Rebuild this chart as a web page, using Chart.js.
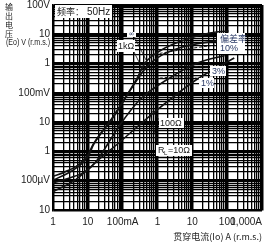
<!DOCTYPE html>
<html><head><meta charset="utf-8">
<script src="https://cdn.jsdelivr.net/npm/chart.js@4/dist/chart.umd.min.js"></script>
<style>html,body{margin:0;padding:0;background:#fff}#wrap{width:267px;height:244px}</style>
</head><body><div id="wrap"><canvas id="c" width="267" height="244"></canvas></div>
<script>
// Data (through current I in A, output voltage V in V r.m.s.)
const xTickValues = [0.001, 0.01, 0.1, 1, 10, 100, 1000];
const xTickLabels = ["1", "10", "100mA", "1", "10", "100", "1,000A"];
const yTickValues = [100, 10, 1, 0.1, 0.01, 0.001, 0.0001, 0.00001];
const yTickLabels = ["100V", "10", "1", "100mV", "10", "1", "100µV", "10"];

const infI = [0.001, 0.0022, 0.0053, 0.01, 0.014, 0.05, 0.26, 0.44, 1.3, 4.9, 31, 110];
const infV = [1.4e-4, 2.0e-4, 3.5e-4, 7.6e-4, 1.7e-3, 0.014, 0.32, 1.05, 2.9, 5.9, 11, 13];
const k1I = [0.001, 0.0022, 0.0053, 0.01, 0.015, 0.05, 0.26, 0.5, 1.3, 4.9, 31, 110];
const k1V = [1.05e-4, 1.6e-4, 3.0e-4, 6.5e-4, 1.8e-3, 0.013, 0.28, 0.8, 1.9, 3.6, 5.5, 6.2];
const r100I = [0.001, 0.0031, 0.0083, 0.016, 0.083, 0.31, 2.2, 16, 85];
const r100V = [8.5e-5, 1.26e-4, 2.0e-4, 4.0e-4, 8.0e-3, 0.058, 0.32, 1.1, 1.9];
const r10I = [0.001, 0.0044, 0.02, 0.083, 0.74, 13, 160];
const r10V = [4.2e-5, 1.07e-4, 5.1e-4, 2.1e-3, 0.02, 0.28, 1.55];
const dev10I = [0.6, 4.4, 44];
const dev10V = [1.95, 2.9, 4.3];
const dev3I = [0.6, 4.4, 31];
const dev3V = [0.71, 0.83, 0.75];
const dev1I = [0.6, 4.4, 20];
const dev1V = [0.3, 0.35, 0.3];
const yTitleChars = ['输', '出', '电', '压'];

function pts(xs, ys){ return xs.map((x,i)=>({x:x, y:ys[i]})); }
function isDecade(v){ const l=Math.log10(v); return Math.abs(l-Math.round(l))<1e-6; }
function allTicks(a,b){ const t=[]; for(let e=a;e<=b;e++){ for(let k=1;k<=9;k++){ t.push({value:k*Math.pow(10,e)}); if(e===b) break; } } return t; }

const solid = (d)=>({data:d, borderColor:'#111', borderWidth:1.6, pointRadius:0, fill:false, tension:0.35, cubicInterpolationMode:'monotone'});
const dashed = (d)=>({data:d, borderColor:'#111', borderWidth:1, borderDash:[3,2], pointRadius:0, fill:false, tension:0.3});

const deco = {
  id:'deco',
  afterDraw(chart){
    const ctx=chart.ctx, xs=chart.scales.x, ys=chart.scales.y;
    ctx.save();
    ctx.fillStyle='#222'; ctx.font='10px "Liberation Sans", Arial, sans-serif';
    ctx.textBaseline='middle'; ctx.textAlign='right';
    yTickValues.forEach((v,i)=>ctx.fillText(yTickLabels[i], 50, ys.getPixelForValue(v)));
    xTickValues.forEach((v,i)=>{
      const px=xs.getPixelForValue(v);
      ctx.textAlign = (i===xTickValues.length-1) ? 'right' : 'center';
      ctx.fillText(xTickLabels[i], px, 222);
    });
    ctx.textAlign='right'; ctx.font='9px "Noto Sans CJK SC", sans-serif';
    ctx.fillText('贯穿电流(Io) A (r.m.s.)', 262, 237);
    ctx.textAlign='left';
    ctx.font='8px "Noto Sans CJK SC", sans-serif';
    for(let i=0;i<yTitleChars.length;i++){ ctx.fillText(yTitleChars[i], 5, 7+i*9); }
    ctx.font='9px "Liberation Sans", Arial, sans-serif';
    ctx.fillText('(Eo) V (r.m.s.)', 6, 43, 44);
    function box(x,y,w,h){ ctx.fillStyle='#fff'; ctx.fillRect(x,y,w,h); }
    function leader(x1,y1,x2,y2){ ctx.strokeStyle='#111'; ctx.lineWidth=0.8; ctx.beginPath(); ctx.moveTo(x1,y1); ctx.lineTo(x2,y2); ctx.stroke(); }
    leader(133,50,142,68);
    leader(134,36,146,60);
    leader(152,111,161,122);
    leader(150,114,159,149);
    box(55,5,57,13);
    ctx.fillStyle='#222'; ctx.font='9px "Noto Sans CJK SC", sans-serif'; ctx.textAlign='left';
    ctx.fillText('频率：', 57, 12);
    ctx.font='10px "Liberation Sans", Arial, sans-serif';
    ctx.fillText('50Hz', 87, 12);
    const lab='#2a3a66';
    box(127,32,9,5); ctx.fillStyle=lab; ctx.font='7px "DejaVu Sans", sans-serif'; ctx.textAlign='center'; ctx.fillText('∞',131.5,34.5);
    box(117,40,18,12); ctx.fillStyle='#222'; ctx.font='9px "Liberation Sans", Arial, sans-serif'; ctx.fillText('1kΩ',126,46.5);
    box(217,33,28,21); ctx.fillStyle=lab; ctx.font='9px "Noto Sans CJK SC", sans-serif'; ctx.textAlign='left'; ctx.fillText('偏差率',220,39);
    ctx.font='9px "Liberation Sans", Arial, sans-serif'; ctx.fillText('10%',220,49);
    box(210,66,16,10); ctx.fillStyle=lab; ctx.fillText('3%',212,71.5);
    box(199,78,15,10); ctx.fillStyle=lab; ctx.fillText('1%',201,83.5);
    box(159,118,25,10); ctx.fillStyle='#222'; ctx.fillText('100Ω',160,123.5);
    box(156,145,36,11); ctx.fillStyle='#222'; ctx.fillText('R',158,151);
    ctx.font='6px "Liberation Sans", Arial, sans-serif'; ctx.fillText('L',164,153.5);
    ctx.font='9px "Liberation Sans", Arial, sans-serif'; ctx.fillText('=10Ω',168,151);
    ctx.restore();
  }
};

new Chart(document.getElementById('c'), {
  type:'line',
  data:{ datasets:[ solid(pts(infI,infV)), solid(pts(k1I,k1V)), solid(pts(r100I,r100V)), solid(pts(r10I,r10V)),
    dashed(pts(dev10I,dev10V)), dashed(pts(dev3I,dev3V)), dashed(pts(dev1I,dev1V)) ] },
  options:{
    responsive:false, animation:false, devicePixelRatio:1,
    layout:{padding:{top:5,right:5,left:0,bottom:0}},
    plugins:{legend:{display:false}, tooltip:{enabled:false}},
    scales:{
      x:{ type:'logarithmic', min:0.001, max:1000,
        afterBuildTicks:s=>{ s.ticks=allTicks(-3,3); },
        afterFit:s=>{ s.height=34; },
        ticks:{display:false},
        grid:{color:'#000', lineWidth:c=>isDecade(c.tick.value)?2.5:1.3, drawTicks:false},
        border:{color:'#000', width:1.5}
      },
      y:{ type:'logarithmic', min:0.00001, max:100,
        afterBuildTicks:s=>{ s.ticks=allTicks(-5,2); },
        afterFit:s=>{ s.width=53; },
        ticks:{display:false},
        grid:{color:'#000', lineWidth:c=>isDecade(c.tick.value)?2.5:1.3, drawTicks:false},
        border:{color:'#000', width:1.5}
      }
    }
  },
  plugins:[deco]
});
</script></body></html>
